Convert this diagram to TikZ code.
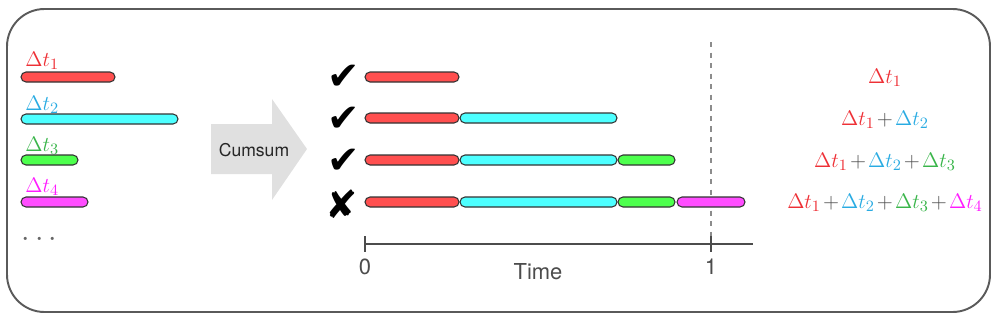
\documentclass[tikz,border=0pt]{standalone}
\usepackage{fontspec}
\usepackage{amsmath}
\newfontfamily\labelfont{TeX Gyre Heros}
\newfontfamily\symfont{DejaVu Sans}
\definecolor{barred}{HTML}{FF4F4F}
\definecolor{barcyan}{HTML}{4DFFFF}
\definecolor{bargreen}{HTML}{4DFF4D}
\definecolor{barmagenta}{HTML}{FF4DFF}
\definecolor{txtred}{HTML}{EE3036}
\definecolor{txtblue}{HTML}{29ABE2}
\definecolor{txtgreen}{HTML}{39B54A}
\definecolor{txtmagenta}{HTML}{FF1AFF}
\definecolor{framegray}{HTML}{5A5A5A}
\definecolor{arrowgray}{HTML}{E0E0E0}
\usetikzlibrary{positioning}
\newcommand{\pl}{\mkern1.8mu\color{black!70}{+}\mkern1.8mu}

\begin{document}
\begin{tikzpicture}[x=0.02cm, y=-0.02cm,
    bar/.style={draw=black!80, fill=#1, line width=0.6pt, rounded corners=0.1cm},
    dt/.style={font=\fontsize{13}{15}\selectfont, inner sep=0pt},
    sum/.style={font=\fontsize{13}{15}\selectfont, anchor=base, inner sep=0pt},
    tick/.style={font=\symfont\fontsize{22}{24}\selectfont, inner sep=0pt},
    axlbl/.style={font=\labelfont\fontsize{12.5}{14}\selectfont, text=black!70, inner sep=0pt},
]
    \useasboundingbox (0,0) rectangle (997,318);
    \draw[framegray, line width=1.1pt, rounded corners=0.75cm] (7,9) rectangle (990,312);

    % the single durations
    \node[dt, anchor=base west, text=txtred] (l1) at (25,66) {$\Delta t_1$};
    \node[dt, anchor=base west, text=txtblue] (l2) at (25,110) {$\Delta t_2$};
    \node[dt, anchor=base west, text=txtgreen] (l3) at (25,151) {$\Delta t_3$};
    \node[dt, anchor=base west, text=txtmagenta] (l4) at (25,192) {$\Delta t_4$};
    \draw[bar=barred] (21,72) rectangle (115,82);
    \draw[bar=barcyan] (21,114) rectangle (178,124);
    \draw[bar=bargreen] (21,155) rectangle (78,165);
    \draw[bar=barmagenta] (21,197) rectangle (88,207);
    \node[text=black!60, font=\fontsize{17}{19}\selectfont] (dots) at (42,240) {$\cdots$};

    % cumsum arrow
    \fill[arrowgray] (211,124) -- (272,124) -- (272,99) -- (307,149)
        -- (272,200) -- (272,174) -- (211,174) -- cycle;
    \node[font=\labelfont\fontsize{10}{12}\selectfont, text=black!85] (cs) at (254,150) {Cumsum};

    % time axis
    \draw[black!45, dashed, line width=0.8pt] (711,42) -- (711,244);
    \draw[black!70, line width=1pt] (365,244) -- (753,244);
    \draw[black!70, line width=1pt] (365,236) -- (365,252);
    \draw[black!70, line width=1pt] (711,236) -- (711,252);
    \node[axlbl] (zero) at (365,267) {0};
    \node[axlbl] (one) at (711,267) {1};
    \node[axlbl] (time) at (538,272) {Time};

    % accumulated rows
    \node[tick] (ok1) at (344,77) {✔};
    \node[tick] (ok2) at (344,119) {✔};
    \node[tick] (ok3) at (344,161) {✔};
    \node[tick] (no4) at (342,204) {✘};

    \draw[bar=barred] (365,72) rectangle (459,82);

    \draw[bar=barred] (365,113) rectangle (459,123);
    \draw[bar=barcyan] (460,113) rectangle (617,123);

    \draw[bar=barred] (365,155) rectangle (459,165);
    \draw[bar=barcyan] (460,155) rectangle (617,165);
    \draw[bar=bargreen] (618,155) rectangle (675,165);

    \draw[bar=barred] (365,197) rectangle (459,207);
    \draw[bar=barcyan] (460,197) rectangle (617,207);
    \draw[bar=bargreen] (618,197) rectangle (675,207);
    \draw[bar=barmagenta] (677,197) rectangle (745,207);

    % running sums
    \node[sum] (s1) at (885,83) {$\color{txtred}\Delta t_1$};
    \node[sum] (s2) at (885,125) {$\color{txtred}\Delta t_1\pl\color{txtblue}\Delta t_2$};
    \node[sum] (s3) at (885,167) {$\color{txtred}\Delta t_1\pl\color{txtblue}\Delta t_2\pl\color{txtgreen}\Delta t_3$};
    \node[sum] (s4) at (885,208) {$\color{txtred}\Delta t_1\pl\color{txtblue}\Delta t_2\pl\color{txtgreen}\Delta t_3\pl\color{txtmagenta}\Delta t_4$};
\end{tikzpicture}
\end{document}
